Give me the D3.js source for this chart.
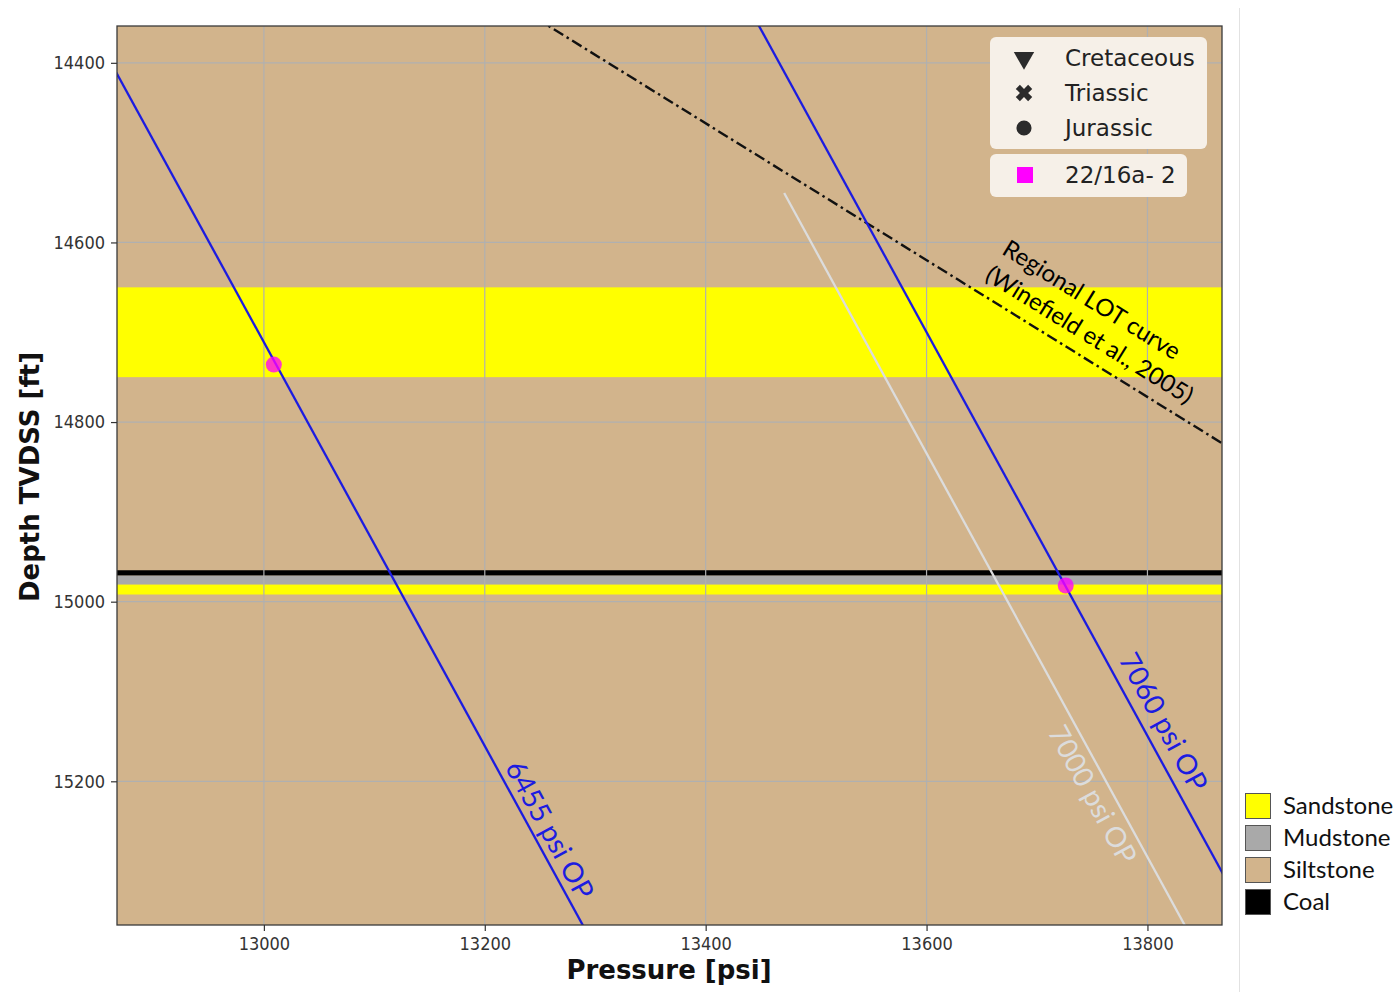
<!DOCTYPE html>
<html>
<head>
<meta charset="utf-8">
<script src="https://cdn.jsdelivr.net/npm/d3@7"></script>
<style>
  html, body { margin: 0; padding: 0; background: #ffffff; }
  svg { display: block; }
</style>
</head>
<body>
<svg id="chart" width="1397" height="992"></svg>
<script>
// ---- data ----------------------------------------------------------------
const xTicks = [13000, 13200, 13400, 13600, 13800];
const yTicks = [14400, 14600, 14800, 15000, 15200];
const pressureDomain = [12867, 13867.5];
const depthDomain = [14359, 15360];

// lithology key
const lithologies = ["Sandstone", "Mudstone", "Siltstone", "Coal"];
const lithColors = ["#ffff00", "#a9a9a9", "#d2b48c", "#000000"];

// interpreted beds (depth in ft TVDSS); siltstone is the background
const bedTops  = [14650, 14965, 14971, 14981];
const bedBases = [14750, 14971, 14981, 14992];
const bedLiths = ["Sandstone", "Coal", "Mudstone", "Sandstone"];

// overpressure lines: P = hydrostatic gradient * depth + overpressure
const hydroGradient = 0.4449;              // psi/ft
const opValues      = [6455, 7060, 7000];  // psi
const opDepthFrom   = [14300, 14300, 14545];
const opDepthTo     = [15400, 15400, 15400];
const opColors      = ["#1c1ce0", "#1c1ce0", "#dcdcdc"];
const opLabelDepth  = [15263, 15145, 15205];
const opLabelSide   = [-7, -11, 28];

// regional leak-off test trend
const lotPressure = [13246, 13876];
const lotDepth    = [14350, 14830];

// well 22/16a-2 pressure measurements
const samplePressure = [13009, 13726];
const sampleDepth    = [14736, 14982];

// age legend
const ageNames   = ["Cretaceous", "Triassic", "Jurassic"];
const ageSymbols = [d3.symbolTriangle, d3.symbolCross, d3.symbolCircle];
const wellName   = "22/16a- 2";

// ---- layout --------------------------------------------------------------
const svg = d3.select("#chart");
const plot = { left: 117, top: 26, right: 1222, bottom: 925 };

const x = d3.scaleLinear().domain(pressureDomain).range([plot.left, plot.right]);
const y = d3.scaleLinear().domain(depthDomain).range([plot.top, plot.bottom]);

svg.append("defs").append("clipPath").attr("id", "plotClip")
  .append("rect")
  .attr("x", plot.left).attr("y", plot.top)
  .attr("width", plot.right - plot.left).attr("height", plot.bottom - plot.top);

const lithColor = d3.scaleOrdinal().domain(lithologies).range(lithColors);

const g = svg.append("g").attr("clip-path", "url(#plotClip)");

// background siltstone
g.append("rect")
  .attr("x", plot.left).attr("y", plot.top)
  .attr("width", plot.right - plot.left).attr("height", plot.bottom - plot.top)
  .attr("fill", lithColor("Siltstone"));

// beds
g.selectAll("rect.bed")
  .data(d3.range(bedTops.length))
  .join("rect")
  .attr("class", "bed")
  .attr("x", plot.left)
  .attr("width", plot.right - plot.left)
  .attr("y", i => y(bedTops[i]))
  .attr("height", i => y(bedBases[i]) - y(bedTops[i]))
  .attr("fill", i => lithColor(bedLiths[i]));

// grid
g.selectAll("line.gx").data(xTicks).join("line")
  .attr("x1", d => x(d)).attr("x2", d => x(d))
  .attr("y1", plot.top).attr("y2", plot.bottom)
  .attr("stroke", "#b0b0b0").attr("stroke-width", 1.2);
g.selectAll("line.gy").data(yTicks).join("line")
  .attr("y1", d => y(d)).attr("y2", d => y(d))
  .attr("x1", plot.left).attr("x2", plot.right)
  .attr("stroke", "#b0b0b0").attr("stroke-width", 1.2);

// LOT curve
const lotLine = d3.line().x(d => x(d[0])).y(d => y(d[1]));
g.append("path")
  .datum(d3.zip(lotPressure, lotDepth))
  .attr("d", lotLine)
  .attr("fill", "none")
  .attr("stroke", "#111")
  .attr("stroke-width", 2.4)
  .attr("stroke-dasharray", "11,4,2.5,4");

// overpressure lines
const opPressure = (op, depth) => hydroGradient * depth + op;
opValues.forEach((op, i) => {
  const pts = [opDepthFrom[i], opDepthTo[i]].map(dep => [opPressure(op, dep), dep]);
  g.append("path")
    .datum(pts)
    .attr("d", lotLine)
    .attr("fill", "none")
    .attr("stroke", opColors[i])
    .attr("stroke-width", 2.3);
});

// measurement points
g.selectAll("circle.sample")
  .data(d3.range(samplePressure.length))
  .join("circle")
  .attr("class", "sample")
  .attr("cx", i => x(samplePressure[i]))
  .attr("cy", i => y(sampleDepth[i]))
  .attr("r", 8)
  .attr("fill", "#ff00ff")
  .attr("fill-opacity", 0.78);

// line labels
function angleOf(p0, p1) {
  return Math.atan2(y(p1[1]) - y(p0[1]), x(p1[0]) - x(p0[0])) * 180 / Math.PI;
}
opValues.forEach((op, i) => {
  const d0 = opDepthFrom[i], d1 = opDepthTo[i];
  const ang = angleOf([opPressure(op, d0), d0], [opPressure(op, d1), d1]);
  const ld = opLabelDepth[i];
  g.append("text")
    .attr("transform", `translate(${x(opPressure(op, ld))},${y(ld)}) rotate(${ang})`)
    .attr("dy", opLabelSide[i])
    .attr("text-anchor", "middle")
    .attr("font-family", "Lato, 'Open Sans', sans-serif")
    .attr("font-size", 28)
    .attr("fill", opColors[i])
    .text(`${op} psi OP`);
});

const lotAng = angleOf([lotPressure[0], lotDepth[0]], [lotPressure[1], lotDepth[1]]);
const lotLabelP = 13645;
const lotLabelD = lotDepth[0] + (lotLabelP - lotPressure[0]) * (lotDepth[1] - lotDepth[0]) / (lotPressure[1] - lotPressure[0]);
const lotText = g.append("text")
  .attr("transform", `translate(${x(lotLabelP)},${y(lotLabelD)}) rotate(${lotAng})`)
  .attr("font-family", "Lato, 'Open Sans', sans-serif")
  .attr("font-size", 24)
  .attr("fill", "#000");
lotText.append("tspan").attr("x", 1).attr("y", -45).text("Regional LOT curve");
lotText.append("tspan").attr("x", 0).attr("y", -14).text("(Winefield et al., 2005)");

// frame
svg.append("rect")
  .attr("x", plot.left).attr("y", plot.top)
  .attr("width", plot.right - plot.left).attr("height", plot.bottom - plot.top)
  .attr("fill", "none").attr("stroke", "#3a3a3a").attr("stroke-width", 1.3);

// axes
const tickFont = "'DejaVu Sans Condensed', 'DejaVu Sans', sans-serif";
const xAxis = svg.append("g")
  .attr("transform", `translate(0,${plot.bottom})`)
  .call(d3.axisBottom(x).tickValues(xTicks).tickSize(6).tickPadding(6).tickFormat(d3.format("d")));
const yAxis = svg.append("g")
  .attr("transform", `translate(${plot.left},0)`)
  .call(d3.axisLeft(y).tickValues(yTicks).tickSize(6).tickPadding(6).tickFormat(d3.format("d")));
[xAxis, yAxis].forEach(a => {
  a.select(".domain").remove();
  a.selectAll(".tick line").attr("stroke", "#333").attr("stroke-width", 1.2);
  a.selectAll(".tick text")
    .attr("font-family", tickFont).attr("font-size", 18).attr("fill", "#333");
});

svg.append("text")
  .attr("x", 669)
  .attr("y", 979)
  .attr("text-anchor", "middle")
  .attr("font-family", "'DejaVu Sans', sans-serif")
  .attr("font-weight", "bold")
  .attr("font-size", 26)
  .attr("fill", "#111")
  .text("Pressure [psi]");

svg.append("text")
  .attr("transform", `translate(39,477) rotate(-90)`)
  .attr("text-anchor", "middle")
  .attr("font-family", "'DejaVu Sans', sans-serif")
  .attr("font-weight", "bold")
  .attr("font-size", 26)
  .attr("fill", "#111")
  .text("Depth TVDSS [ft]");

// age legend
const legendFill = "#f6f0e8";
const leg = svg.append("g");
leg.append("rect")
  .attr("x", 990).attr("y", 37).attr("width", 217).attr("height", 112)
  .attr("rx", 6).attr("fill", legendFill);
const ageRow = leg.selectAll("g.age").data(ageNames).join("g")
  .attr("class", "age")
  .attr("transform", (d, i) => `translate(0,${58 + i * 35})`);
ageRow.append("path")
  .attr("d", (d, i) => d3.symbol().type(ageSymbols[i]).size(i === 1 ? 170 : 180)())
  .attr("transform", (d, i) => `translate(1024,0) rotate(${i === 0 ? 180 : i === 1 ? 45 : 0})`)
  .attr("fill", "#2b2b2b");
ageRow.append("text")
  .attr("x", 1065).attr("dy", "0.35em")
  .attr("font-family", "'DejaVu Sans', sans-serif")
  .attr("font-size", 23)
  .attr("fill", "#222")
  .text(d => d);

leg.append("rect")
  .attr("x", 990).attr("y", 154).attr("width", 197).attr("height", 43)
  .attr("rx", 6).attr("fill", legendFill);
leg.append("rect")
  .attr("x", 1017).attr("y", 167).attr("width", 16).attr("height", 16)
  .attr("fill", "#ff00ff");
leg.append("text")
  .attr("x", 1065).attr("y", 175).attr("dy", "0.35em")
  .attr("font-family", "'DejaVu Sans', sans-serif")
  .attr("font-size", 23)
  .attr("fill", "#222")
  .text(wellName);

// separator and lithology key
svg.append("line")
  .attr("x1", 1239.5).attr("x2", 1239.5).attr("y1", 8).attr("y2", 992)
  .attr("stroke", "#e2e2e2").attr("stroke-width", 1);

const key = svg.append("g").selectAll("g").data(lithologies).join("g")
  .attr("transform", (d, i) => `translate(1245,${793 + i * 32})`);
key.append("rect")
  .attr("x", 0.5).attr("y", 0.5).attr("width", 25).attr("height", 25)
  .attr("fill", d => lithColor(d)).attr("stroke", "#555").attr("stroke-width", 1);
key.append("text")
  .attr("x", 38).attr("y", 13).attr("dy", "0.35em")
  .attr("font-family", "Lato, 'Open Sans', sans-serif")
  .attr("font-size", 24)
  .attr("fill", "#111")
  .text(d => d);
</script>
</body>
</html>
